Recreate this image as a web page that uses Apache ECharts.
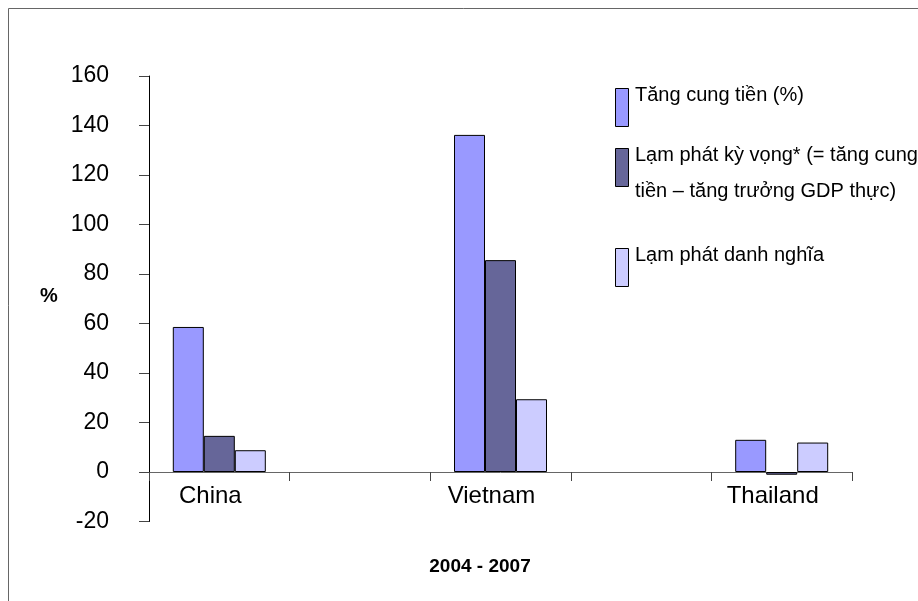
<!DOCTYPE html>
<html>
<head>
<meta charset="utf-8">
<script src="https://cdn.jsdelivr.net/npm/echarts@6/dist/echarts.min.js"></script>
<style>
    html, body { margin: 0; padding: 0; background: #fff; }
    #chart { width: 918px; height: 601px; }
</style>
</head>
<body>
<div id="chart"></div>
<script>
const countries = ['China', 'Vietnam', 'Thailand']
const seriesNames = [
    'Tăng cung tiền (%)',
    'Lạm phát kỳ vọng* (= tăng cung\ntiền – tăng trưởng GDP thực)',
    'Lạm phát danh nghĩa'
]
const moneySupply = [58.6, 136.2, 13.0]
const expectedInflation = [14.6, 85.6, -1.1]
const nominalInflation = [8.8, 29.4, 11.9]
const seriesColors = ['#9999ff', '#666699', '#ccccff']
const yTicks = [-20, 160, 20]  // min, max, step

const font = 'Liberation Sans, Arial, sans-serif'

// the original axis has an empty slot between each country
let categories = []
countries.forEach((c, i) => {
    if (i > 0) categories.push('')
    categories.push(c)
})
function withGaps(values) {
    let out = []
    values.forEach((v, i) => {
        if (i > 0) out.push('-')
        out.push(v)
    })
    return out
}

let allValues = [moneySupply, expectedInflation, nominalInflation]
let series = allValues.map((vals, i) => ({
    name: seriesNames[i],
    type: 'bar',
    data: withGaps(vals),
    barWidth: 31,
    barGap: '0%',
    itemStyle: {color: seriesColors[i], borderColor: '#000', borderWidth: 1},
    emphasis: {disabled: true}
}))

// legend drawn by hand: tall swatches with text at their top
let legendGraphics = []
let legendTops = [88, 148, 248]
seriesNames.forEach((name, i) => {
    legendGraphics.push({
        type: 'rect',
        shape: {x: 615.5, y: legendTops[i] + 0.5, width: 13, height: 38},
        style: {fill: seriesColors[i], stroke: '#000', lineWidth: 1}
    })
    legendGraphics.push({
        type: 'text',
        x: 635,
        y: legendTops[i] - 11,
        style: {text: name, font: '20px ' + font, fill: '#000', lineHeight: 36}
    })
})

let myChart = echarts.init(document.getElementById('chart'), null, {renderer: 'canvas'})
myChart.setOption({
    animation: false,
    backgroundColor: '#fff',
    grid: {left: 149, right: 66, top: 76, bottom: 79.5, containLabel: false},
    xAxis: {
        type: 'category',
        data: categories,
        axisLine: {onZero: true, lineStyle: {color: '#666', width: 1}},
        axisTick: {show: true, interval: 0, alignWithLabel: false, length: 9, lineStyle: {color: '#444'}},
        // labels sit just under the zero line, not under the grid bottom
        axisLabel: {interval: 0, margin: -37, color: '#000', fontSize: 24, fontFamily: font, padding: [0, 18, 0, 0]}
    },
    yAxis: {
        type: 'value',
        min: yTicks[0],
        max: yTicks[1],
        interval: yTicks[2],
        axisLine: {show: true, lineStyle: {color: '#000', width: 1}},
        axisTick: {show: true, length: 10, lineStyle: {color: '#444'}},
        splitLine: {show: false},
        axisLabel: {margin: 40, color: '#000', fontSize: 23, fontFamily: font}
    },
    series: series,
    graphic: [
        {
            type: 'rect',
            silent: true,
            shape: {x: 8.5, y: 8.5, width: 920, height: 600},
            style: {fill: 'none', stroke: '#666', lineWidth: 1}
        },
        {
            type: 'text',
            x: 49, y: 296,
            style: {text: '%', font: 'bold 20px ' + font, fill: '#000', textAlign: 'center', textVerticalAlign: 'middle'}
        },
        {
            type: 'text',
            x: 480, y: 567,
            style: {text: '2004 - 2007', font: 'bold 19px ' + font, fill: '#000', textAlign: 'center', textVerticalAlign: 'middle'}
        }
    ].concat(legendGraphics)
})

window.addEventListener('resize', () => {
    myChart.resize()
})
</script>
</body>
</html>
